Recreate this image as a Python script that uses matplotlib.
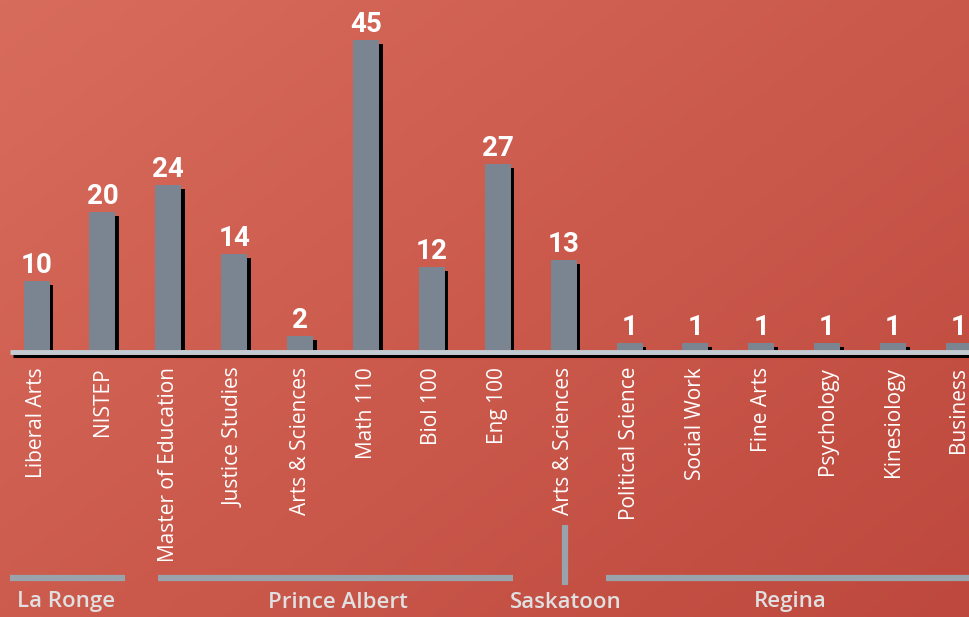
import numpy as np
import matplotlib
matplotlib.use("Agg")
import matplotlib.pyplot as plt
from matplotlib.transforms import blended_transform_factory
from matplotlib.colors import LinearSegmentedColormap

categories = ["Liberal Arts", "NISTEP", "Master of Education", "Justice Studies",
              "Arts & Sciences", "Math 110", "Biol 100", "Eng 100", "Arts & Sciences",
              "Political Science", "Social Work", "Fine Arts", "Psychology",
              "Kinesiology", "Business"]
values = [10, 20, 24, 14, 2, 45, 12, 27, 13, 1, 1, 1, 1, 1, 1]
groups = ["La Ronge", "Prince Albert", "Saskatoon", "Regina"]

W, H = 969, 617
fig = plt.figure(figsize=(W / 100, H / 100), dpi=100)

# background gradient
bg = fig.add_axes([0, 0, 1, 1], zorder=0)
gx, gy = np.meshgrid(np.linspace(0, 1, 300), np.linspace(0, 1, 200))
grad = (gx * 0.55 + gy * 0.45)
cmap = LinearSegmentedColormap.from_list("bg", ["#D86C5C", "#BE483D"])
bg.imshow(grad, cmap=cmap, aspect="auto", extent=[0, 1, 0, 1], origin="upper")
bg.axis("off")

ax = fig.add_axes([0, 0, 1, 1], zorder=1)
ax.patch.set_alpha(0)
ax.axis("off")

x0_px = 36.6
px_per_cat = 65.88
px_per_unit = 6.89
base_px = 267
ax.set_xlim(-x0_px / px_per_cat, (W - x0_px) / px_per_cat)
ax.set_ylim(-base_px / px_per_unit, (H - base_px) / px_per_unit)

x = np.arange(len(categories))
bw = 26 / px_per_cat
dx = 3.5 / px_per_cat
dy = 4 / px_per_unit
# shadows
ax.bar(x + dx, np.array(values) - dy, width=bw, color="black", zorder=2)
ax.bar(x, values, width=bw, color="#7A8591", zorder=3)

# baseline
tb = blended_transform_factory(fig.transFigure, ax.transData)
ax.plot([13 / W, 1], [-5.6 / px_per_unit, -5.6 / px_per_unit], color="black",
        lw=2.2, transform=tb, zorder=2, solid_capstyle="butt")
ax.plot([10 / W, 1], [-2 / px_per_unit, -2 / px_per_unit], color="#C3CBD2",
        lw=3.5, transform=tb, zorder=4, solid_capstyle="butt")

for xi, v in zip(x, values):
    ax.text(xi, v + 8 / px_per_unit, str(v), ha="center", va="baseline", color="white",
            fontsize=20, fontweight="bold", family="Roboto", zorder=5)

for xi, c in zip(x, categories):
    ax.text(xi, -17 / px_per_unit, c, rotation=90, ha="center", va="top",
            color="white", fontsize=15, family="Open Sans", zorder=5)

# group brackets (figure pixel fractions)
def fx(px):
    return px / W

def fy(py):
    return 1 - py / H

line_kw = dict(color="#9AA3AB", lw=4.5, transform=fig.transFigure,
               solid_capstyle="butt", zorder=5)
ax.plot([fx(10), fx(125)], [fy(578), fy(578)], **line_kw)
ax.plot([fx(158), fx(513)], [fy(578), fy(578)], **line_kw)
ax.plot([fx(565), fx(565)], [fy(525), fy(585)], **line_kw)
ax.plot([fx(606), fx(969)], [fy(578), fy(578)], **line_kw)

for cx, g in zip([66, 338, 566, 790], groups):
    ax.text(fx(cx), fy(602), g, ha="center", va="center", color="#E0E0E0",
            fontsize=16, fontweight="semibold", family="Open Sans",
            transform=fig.transFigure, zorder=5)

fig.savefig("out.png", dpi=100)
